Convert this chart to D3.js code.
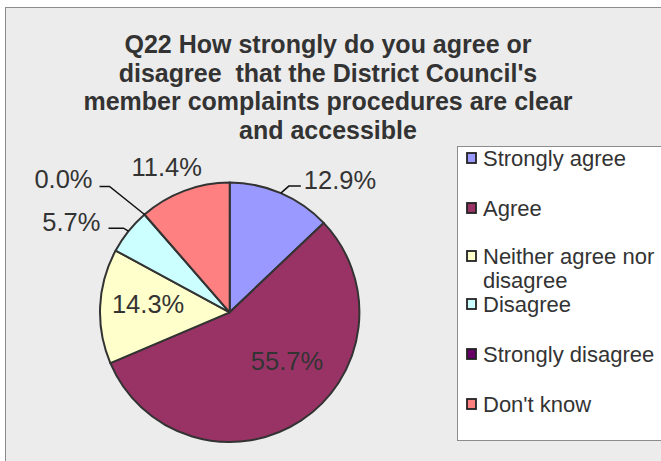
<!DOCTYPE html>
<html><head><meta charset="utf-8">
<script src="https://cdn.jsdelivr.net/npm/d3@7"></script>
<style>
html,body{margin:0;padding:0;background:#fff;}
text{font-family:"Liberation Sans",Arial,sans-serif;fill:#333;}
</style></head>
<body><svg id="c" width="661" height="461"></svg>
<script>
const categories = ["Strongly agree","Agree","Neither agree nor disagree","Disagree","Strongly disagree","Don't know"];
const values = [12.9, 55.7, 14.3, 5.7, 0.0, 11.4];
const colors = ["#9999FF","#993366","#FFFFCC","#CCFFFF","#660066","#FF8080"];
const titleLines = ["Q22 How strongly do you agree or","disagree  that the District Council's","member complaints procedures are clear","and accessible"];
const legendLines = [["Strongly agree"],["Agree"],["Neither agree nor","disagree"],["Disagree"],["Strongly disagree"],["Don't know"]];

const svg = d3.select("#c");
svg.append("rect").attr("x",5.5).attr("y",7.5).attr("width",700).attr("height",500)
  .attr("fill","#ececec").attr("stroke","#8c8c8c").attr("stroke-width",1);

// title
const title = svg.append("text").attr("text-anchor","middle").attr("font-weight","bold")
  .attr("font-size",25).attr("xml:space","preserve").style("white-space","pre");
titleLines.forEach((t,i)=>title.append("tspan").attr("x",328).attr("y",53+i*28.5).text(t));

// pie
const cx=229.7, cy=312.3, R=129.7;
const pie = d3.pie().sort(null).value(d=>d);
const arcs = pie(values);
const arc = d3.arc().innerRadius(0).outerRadius(R);
const g = svg.append("g").attr("transform",`translate(${cx},${cy})`);
g.selectAll("path").data(arcs).join("path").attr("d",arc)
  .attr("fill",(d,i)=>colors[i]).attr("stroke","#333").attr("stroke-width",2).attr("stroke-linejoin","round");

const fmt = d3.format(".1f");
const pt = (a,r)=>[r*Math.sin(a), -r*Math.cos(a)];
const mid = d=>(d.startAngle+d.endAngle)/2;
const lbl = g.append("g").attr("font-size",25.5);
arcs.forEach((d,i)=>{
  const a = mid(d), txt = fmt(values[i])+"%";
  if(i===1){
    const p = pt(a, R*0.58);
    lbl.append("text").attr("x",p[0]+16).attr("y",p[1]-5).attr("text-anchor","middle").text(txt);
  } else if(i===2){
    const p = pt(a, R*0.63);
    lbl.append("text").attr("x",p[0]).attr("y",p[1]+5).attr("text-anchor","middle").text(txt);
  } else if(i===0){
    const e = pt(a,R), el=[e[0]+8,e[1]-7], h=[el[0]+12,el[1]];
    lbl.append("path").attr("d",d3.line()([e,el,h])).attr("fill","none").attr("stroke","#111").attr("stroke-width",1.5);
    lbl.append("text").attr("x",h[0]+3).attr("y",h[1]+3).text(txt);
  } else if(i===3){
    const e = pt(a,R), el=[e[0]-5,e[1]-3], h=[el[0]-15,el[1]];
    lbl.append("path").attr("d",d3.line()([e,el,h])).attr("fill","none").attr("stroke","#111").attr("stroke-width",1.5);
    lbl.append("text").attr("x",h[0]-8).attr("y",h[1]+3).attr("text-anchor","end").text(txt);
  } else if(i===4){
    const e = pt(d.startAngle,R), el=[e[0]-35,e[1]-28], h=[el[0]-10,el[1]];
    lbl.append("path").attr("d",d3.line()([e,el,h])).attr("fill","none").attr("stroke","#111").attr("stroke-width",1.5);
    lbl.append("text").attr("x",h[0]-7).attr("y",h[1]+2).attr("text-anchor","end").text(txt);
  } else {
    const p = pt(a, R*1.1);
    lbl.append("text").attr("x",p[0]-13).attr("y",p[1]-3).attr("text-anchor","middle").text(txt);
  }
});

// legend
svg.append("rect").attr("x",457.5).attr("y",146.5).attr("width",230).attr("height",294)
  .attr("fill","#fff").attr("stroke","#8c8c8c");
const ly = [158,208,256,304,354,404];
const lg = svg.append("g");
categories.forEach((c,i)=>{
  lg.append("rect").attr("x",467).attr("y",ly[i]-5).attr("width",9).attr("height",10)
    .attr("fill",colors[i]).attr("stroke","#222").attr("stroke-width",1.8);
  const t = lg.append("text").attr("font-size",22);
  legendLines[i].forEach((s,j)=>t.append("tspan").attr("x",483).attr("y",ly[i]+8+j*24).text(s));
});
</script></body></html>
